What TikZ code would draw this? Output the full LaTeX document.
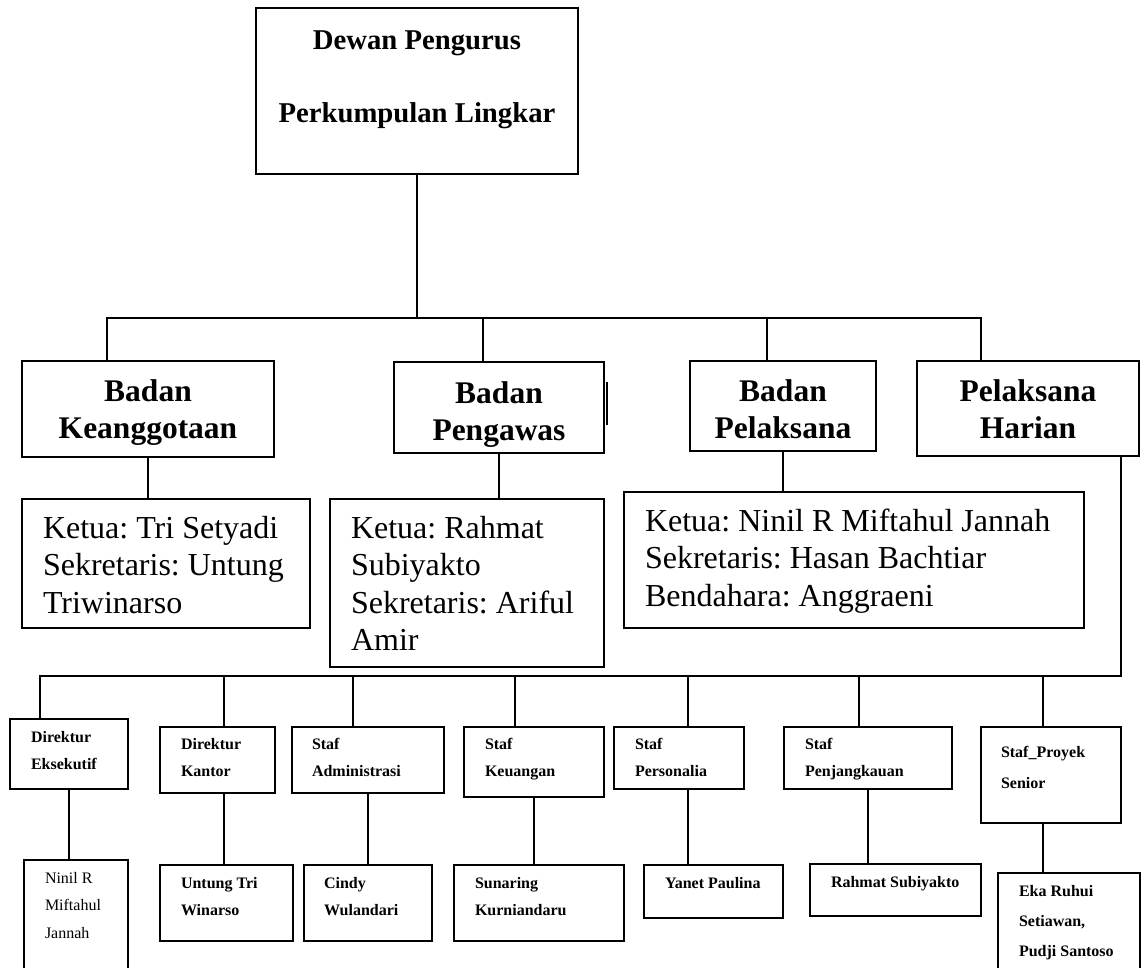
\documentclass[tikz,border=0pt]{standalone}
\usepackage{fontspec}
\setmainfont{Liberation Serif}
\usepackage{tikz}
\frenchspacing

\begin{document}
\begin{tikzpicture}[
        x=1pt, y=-1pt, line width=1.6pt,
        orgbox/.style={draw, anchor=north west, inner ysep=0pt, outer sep=0pt, align=flush left},
        midbox/.style={orgbox, inner xsep=0pt, align=flush center},
        headtext/.style={font=\bfseries\fontsize{31.5}{37}\selectfont},
        nametext/.style={font=\fontsize{32}{37.5}\selectfont},
        smalltext/.style={font=\bfseries\fontsize{16}{27.5}\selectfont},
        plaintext/.style={font=\fontsize{16}{27.5}\selectfont}
        ]
        \useasboundingbox (0,0) rectangle (1141,968);
        \clip (0,0) rectangle (1141,968);

        % top
        \node[midbox, text width=322pt, text height=42pt, text depth=124pt,
              font=\bfseries\fontsize{28.7}{73}\selectfont] (dp) at (256,8) {Dewan Pengurus\\Perkumpulan Lingkar};

        % badan
        \node[midbox, headtext, text width=252pt, text height=40pt, text depth=56pt] (bk)  at (22,361)  {Badan\\Keanggotaan};
        \node[midbox, headtext, text width=210pt, text height=41pt, text depth=50pt] (bpw) at (394,362) {Badan\\Pengawas};
        \node[midbox, headtext, text width=186pt, text height=40pt, text depth=50pt] (bpl) at (690,361) {Badan\\Pelaksana};
        \node[midbox, headtext, text width=222pt, text height=40pt, text depth=55pt] (ph)  at (917,361) {Pelaksana\\Harian};

        % pengurus badan
        \node[orgbox, nametext, inner xsep=21pt, text width=246pt, text height=39pt, text depth=90pt]  (k_1) at (22,499)  {Ketua: Tri Setyadi\\Sekretaris: Untung\\Triwinarso};
        \node[orgbox, nametext, inner xsep=21pt, text width=232pt, text height=39pt, text depth=129pt] (k_2) at (330,499) {Ketua: Rahmat\\Subiyakto\\Sekretaris: Ariful\\Amir};
        \node[orgbox, nametext, inner xsep=21pt, text width=418pt, text height=39pt, text depth=97pt]  (k_3) at (624,492) {Ketua: Ninil R Miftahul Jannah\\Sekretaris: Hasan Bachtiar\\Bendahara: Anggraeni};

        % staf
        \node[orgbox, smalltext, inner xsep=21pt, text width=76pt,  text height=23pt, text depth=47pt] (s_1) at (10,719)  {Direktur\\Eksekutif};
        \node[orgbox, smalltext, inner xsep=21pt, text width=73pt,  text height=22pt, text depth=44pt] (s_2) at (160,727) {Direktur\\Kantor};
        \node[orgbox, smalltext, inner xsep=20pt, text width=112pt, text height=22pt, text depth=44pt] (s_3) at (292,727) {Staf\\Administrasi};
        \node[orgbox, smalltext, inner xsep=21pt, text width=98pt,  text height=22pt, text depth=48pt] (s_4) at (464,727) {Staf\\Keuangan};
        \node[orgbox, smalltext, inner xsep=21pt, text width=88pt,  text height=22pt, text depth=40pt] (s_5) at (614,727) {Staf\\Personalia};
        \node[orgbox, smalltext, inner xsep=21pt, text width=126pt, text height=22pt, text depth=40pt] (s_6) at (784,727) {Staf\\Penjangkauan};
        \node[orgbox, inner xsep=20pt, text width=100pt, text height=30pt, text depth=66pt,
              font=\bfseries\fontsize{16}{31}\selectfont] (s_7) at (981,727) {Staf\_Proyek\\Senior};

        % nama staf
        \node[orgbox, plaintext, inner xsep=21pt, text width=62pt,  text height=23pt, text depth=130pt] (p_1) at (24,860)  {Ninil R\\Miftahul\\Jannah};
        \node[orgbox, smalltext, inner xsep=21pt, text width=91pt,  text height=23pt, text depth=53pt]  (p_2) at (160,865) {Untung Tri\\Winarso};
        \node[orgbox, smalltext, inner xsep=20pt, text width=88pt,  text height=23pt, text depth=53pt]  (p_3) at (304,865) {Cindy\\Wulandari};
        \node[orgbox, smalltext, inner xsep=21pt, text width=128pt, text height=23pt, text depth=53pt]  (p_4) at (454,865) {Sunaring\\Kurniandaru};
        \node[orgbox, smalltext, inner xsep=21pt, text width=97pt,  text height=23pt, text depth=30pt]  (p_5) at (644,865) {Yanet~Paulina};
        \node[orgbox, smalltext, inner xsep=21pt, text width=129pt, text height=23pt, text depth=29pt]  (p_6) at (810,864) {Rahmat~Subiyakto};
        \node[orgbox, inner xsep=21pt, text width=100pt, text height=23pt, text depth=130pt,
              font=\bfseries\fontsize{16}{30}\selectfont] (p_7) at (998,873) {Eka Ruhui\\Setiawan,\\Pudji~Santoso};

        % garis
        \coordinate (t_1) at (107,318);
        \coordinate (t_2) at (483,318);
        \coordinate (t_3) at (767,318);
        \coordinate (t_4) at (981,318);
        \coordinate (u_1) at (40,676);
        \coordinate (u_2) at (224,676);
        \coordinate (u_3) at (353,676);
        \coordinate (u_4) at (515,676);
        \coordinate (u_5) at (688,676);
        \coordinate (u_6) at (859,676);
        \coordinate (u_7) at (1043,676);
        \coordinate (u_8) at (1121,676);

        \draw (t_1 |- bk.north) -- (t_1) -- (t_4) -- (t_4 |- ph.north);
        \draw (ph.south -| u_8) -- (u_8) -- (u_1) -- (u_1 |- s_1.north);
        \path
        (dp.south)      edge    (dp.south |- t_1)
        (t_2)           edge    (t_2 |- bpw.north)
        (t_3)           edge    (t_3 |- bpl.north)
        (bk.south)      edge    (bk.south |- k_1.north)
        (bpw.south)     edge    (bpw.south |- k_2.north)
        (bpl.south)     edge    (bpl.south |- k_3.north)
        (u_2)           edge    (u_2 |- s_2.north)
        (u_3)           edge    (u_3 |- s_3.north)
        (u_4)           edge    (u_4 |- s_4.north)
        (u_5)           edge    (u_5 |- s_5.north)
        (u_6)           edge    (u_6 |- s_6.north)
        (u_7)           edge    (u_7 |- s_7.north)
        (s_1.south)     edge    (s_1.south |- p_1.north)
        (s_2.south -| u_2) edge (u_2 |- p_2.north)
        (s_3.south)     edge    (s_3.south |- p_3.north)
        (s_4.south)     edge    (s_4.south |- p_4.north)
        (s_5.south -| u_5) edge (u_5 |- p_5.north)
        (s_6.south)     edge    (s_6.south |- p_6.north)
        (s_7.south -| u_7) edge (u_7 |- p_7.north);
        \draw (bpw.north east) ++(3,20) -- ++(0,43);
\end{tikzpicture}
\end{document}
